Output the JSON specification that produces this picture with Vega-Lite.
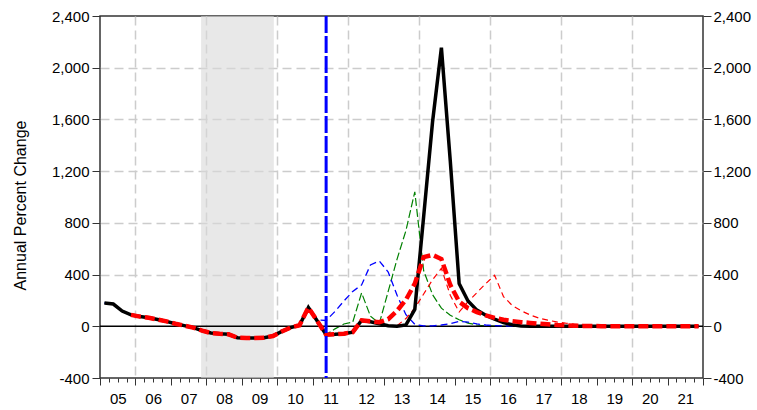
{
"$schema":"https://vega.github.io/schema/vega-lite/v6.json",
"width":603,"height":362,
"autosize":{"type":"none"},
"padding":{"left":100,"top":16,"right":54,"bottom":32},
"config":{"font":"Liberation Sans","view":{"stroke":"#333","strokeWidth":1.5}},
"datasets":{
"black":[{"t":2005.125,"v":180},{"t":2005.375,"v":172},{"t":2005.625,"v":118},{"t":2005.875,"v":88},{"t":2006.125,"v":75},{"t":2006.375,"v":66},{"t":2006.625,"v":52},{"t":2006.875,"v":38},{"t":2007.125,"v":20},{"t":2007.375,"v":5},{"t":2007.625,"v":-10},{"t":2007.875,"v":-33},{"t":2008.125,"v":-52},{"t":2008.375,"v":-58},{"t":2008.625,"v":-62},{"t":2008.875,"v":-88},{"t":2009.125,"v":-90},{"t":2009.375,"v":-90},{"t":2009.625,"v":-88},{"t":2009.875,"v":-75},{"t":2010.125,"v":-40},{"t":2010.375,"v":-10},{"t":2010.625,"v":8},{"t":2010.875,"v":145},{"t":2011.125,"v":41},{"t":2011.375,"v":-65},{"t":2011.625,"v":-62},{"t":2011.875,"v":-57},{"t":2012.125,"v":-45},{"t":2012.375,"v":45},{"t":2012.625,"v":35},{"t":2012.875,"v":20},{"t":2013.125,"v":5},{"t":2013.375,"v":0},{"t":2013.625,"v":10},{"t":2013.875,"v":130},{"t":2014.125,"v":850},{"t":2014.375,"v":1580},{"t":2014.625,"v":2155},{"t":2014.875,"v":1280},{"t":2015.125,"v":330},{"t":2015.375,"v":195},{"t":2015.625,"v":125},{"t":2015.875,"v":85},{"t":2016.125,"v":55},{"t":2016.375,"v":28},{"t":2016.625,"v":12},{"t":2016.875,"v":3},{"t":2017.125,"v":1},{"t":2017.375,"v":0},{"t":2017.625,"v":0},{"t":2017.875,"v":0},{"t":2018.125,"v":0},{"t":2018.375,"v":0},{"t":2018.625,"v":0},{"t":2018.875,"v":0},{"t":2019.125,"v":0},{"t":2019.375,"v":0},{"t":2019.625,"v":0},{"t":2019.875,"v":0},{"t":2020.125,"v":0},{"t":2020.375,"v":0},{"t":2020.625,"v":0},{"t":2020.875,"v":0},{"t":2021.125,"v":0},{"t":2021.375,"v":0},{"t":2021.625,"v":0},{"t":2021.875,"v":0}],
"red":[{"t":2005.875,"v":88},{"t":2006.125,"v":75},{"t":2006.375,"v":66},{"t":2006.625,"v":52},{"t":2006.875,"v":38},{"t":2007.125,"v":20},{"t":2007.375,"v":5},{"t":2007.625,"v":-10},{"t":2007.875,"v":-33},{"t":2008.125,"v":-52},{"t":2008.375,"v":-58},{"t":2008.625,"v":-62},{"t":2008.875,"v":-88},{"t":2009.125,"v":-90},{"t":2009.375,"v":-90},{"t":2009.625,"v":-88},{"t":2009.875,"v":-75},{"t":2010.125,"v":-40},{"t":2010.375,"v":-10},{"t":2010.625,"v":8},{"t":2010.875,"v":145},{"t":2011.125,"v":41},{"t":2011.375,"v":-65},{"t":2011.625,"v":-62},{"t":2011.875,"v":-57},{"t":2012.125,"v":-45},{"t":2012.375,"v":45},{"t":2012.625,"v":38},{"t":2012.875,"v":32},{"t":2013.125,"v":55},{"t":2013.375,"v":120},{"t":2013.625,"v":205},{"t":2013.875,"v":330},{"t":2014.125,"v":535},{"t":2014.375,"v":552},{"t":2014.625,"v":520},{"t":2014.875,"v":320},{"t":2015.125,"v":190},{"t":2015.375,"v":140},{"t":2015.625,"v":110},{"t":2015.875,"v":85},{"t":2016.125,"v":65},{"t":2016.375,"v":50},{"t":2016.625,"v":40},{"t":2016.875,"v":32},{"t":2017.125,"v":26},{"t":2017.375,"v":20},{"t":2017.625,"v":15},{"t":2017.875,"v":10},{"t":2018.125,"v":7},{"t":2018.375,"v":5},{"t":2018.625,"v":3},{"t":2018.875,"v":2},{"t":2019.125,"v":1},{"t":2019.375,"v":1},{"t":2019.625,"v":1},{"t":2019.875,"v":1},{"t":2020.125,"v":1},{"t":2020.375,"v":1},{"t":2020.625,"v":1},{"t":2020.875,"v":1},{"t":2021.125,"v":1},{"t":2021.375,"v":1},{"t":2021.625,"v":1},{"t":2021.875,"v":1}],
"blue":[{"t":2005.125,"v":180},{"t":2005.375,"v":172},{"t":2005.625,"v":118},{"t":2005.875,"v":88},{"t":2006.125,"v":75},{"t":2006.375,"v":66},{"t":2006.625,"v":52},{"t":2006.875,"v":38},{"t":2007.125,"v":20},{"t":2007.375,"v":5},{"t":2007.625,"v":-10},{"t":2007.875,"v":-33},{"t":2008.125,"v":-52},{"t":2008.375,"v":-58},{"t":2008.625,"v":-62},{"t":2008.875,"v":-88},{"t":2009.125,"v":-90},{"t":2009.375,"v":-90},{"t":2009.625,"v":-88},{"t":2009.875,"v":-75},{"t":2010.125,"v":-40},{"t":2010.375,"v":-10},{"t":2010.625,"v":8},{"t":2010.875,"v":145},{"t":2011.125,"v":48},{"t":2011.375,"v":45},{"t":2011.625,"v":115},{"t":2011.875,"v":195},{"t":2012.125,"v":270},{"t":2012.375,"v":320},{"t":2012.625,"v":475},{"t":2012.875,"v":505},{"t":2013.125,"v":420},{"t":2013.375,"v":240},{"t":2013.625,"v":90},{"t":2013.875,"v":15},{"t":2014.125,"v":3},{"t":2014.375,"v":3},{"t":2014.625,"v":10},{"t":2014.875,"v":20},{"t":2015.125,"v":38},{"t":2015.375,"v":32},{"t":2015.625,"v":18},{"t":2015.875,"v":10},{"t":2016.125,"v":5},{"t":2016.375,"v":3},{"t":2016.625,"v":2},{"t":2016.875,"v":1},{"t":2017.125,"v":0},{"t":2017.375,"v":0},{"t":2017.625,"v":0},{"t":2017.875,"v":0},{"t":2018.125,"v":0},{"t":2018.375,"v":0},{"t":2018.625,"v":0},{"t":2018.875,"v":0},{"t":2019.125,"v":0},{"t":2019.375,"v":0},{"t":2019.625,"v":0},{"t":2019.875,"v":0},{"t":2020.125,"v":0},{"t":2020.375,"v":0},{"t":2020.625,"v":0},{"t":2020.875,"v":0},{"t":2021.125,"v":0},{"t":2021.375,"v":0},{"t":2021.625,"v":0},{"t":2021.875,"v":0}],
"green":[{"t":2005.125,"v":180},{"t":2005.375,"v":172},{"t":2005.625,"v":118},{"t":2005.875,"v":88},{"t":2006.125,"v":75},{"t":2006.375,"v":66},{"t":2006.625,"v":52},{"t":2006.875,"v":38},{"t":2007.125,"v":20},{"t":2007.375,"v":5},{"t":2007.625,"v":-10},{"t":2007.875,"v":-33},{"t":2008.125,"v":-52},{"t":2008.375,"v":-58},{"t":2008.625,"v":-62},{"t":2008.875,"v":-88},{"t":2009.125,"v":-90},{"t":2009.375,"v":-90},{"t":2009.625,"v":-88},{"t":2009.875,"v":-75},{"t":2010.125,"v":-40},{"t":2010.375,"v":-10},{"t":2010.625,"v":8},{"t":2010.875,"v":145},{"t":2011.125,"v":41},{"t":2011.375,"v":-65},{"t":2011.625,"v":-20},{"t":2011.875,"v":18},{"t":2012.125,"v":32},{"t":2012.375,"v":258},{"t":2012.625,"v":78},{"t":2012.875,"v":22},{"t":2013.125,"v":270},{"t":2013.375,"v":520},{"t":2013.625,"v":740},{"t":2013.875,"v":1040},{"t":2014.125,"v":430},{"t":2014.375,"v":245},{"t":2014.625,"v":140},{"t":2014.875,"v":85},{"t":2015.125,"v":50},{"t":2015.375,"v":25},{"t":2015.625,"v":10},{"t":2015.875,"v":3},{"t":2016.125,"v":1},{"t":2016.375,"v":0},{"t":2016.625,"v":0},{"t":2016.875,"v":0},{"t":2017.125,"v":0},{"t":2017.375,"v":0},{"t":2017.625,"v":0},{"t":2017.875,"v":0},{"t":2018.125,"v":0},{"t":2018.375,"v":0},{"t":2018.625,"v":0},{"t":2018.875,"v":0},{"t":2019.125,"v":0},{"t":2019.375,"v":0},{"t":2019.625,"v":0},{"t":2019.875,"v":0},{"t":2020.125,"v":0},{"t":2020.375,"v":0},{"t":2020.625,"v":0},{"t":2020.875,"v":0},{"t":2021.125,"v":0},{"t":2021.375,"v":0},{"t":2021.625,"v":0},{"t":2021.875,"v":0}],
"redthin":[{"t":2013.375,"v":5},{"t":2013.625,"v":60},{"t":2013.875,"v":140},{"t":2014.125,"v":250},{"t":2014.375,"v":360},{"t":2014.625,"v":448},{"t":2014.875,"v":240},{"t":2015.125,"v":110},{"t":2015.375,"v":190},{"t":2015.625,"v":260},{"t":2015.875,"v":330},{"t":2016.125,"v":395},{"t":2016.375,"v":230},{"t":2016.625,"v":160},{"t":2016.875,"v":120},{"t":2017.125,"v":88},{"t":2017.375,"v":63},{"t":2017.625,"v":47},{"t":2017.875,"v":34},{"t":2018.125,"v":24},{"t":2018.375,"v":16},{"t":2018.625,"v":10},{"t":2018.875,"v":6},{"t":2019.125,"v":4},{"t":2019.375,"v":3},{"t":2019.625,"v":2},{"t":2019.875,"v":1},{"t":2020.125,"v":1},{"t":2020.375,"v":1},{"t":2020.625,"v":1},{"t":2020.875,"v":1},{"t":2021.125,"v":0},{"t":2021.375,"v":0},{"t":2021.625,"v":0},{"t":2021.875,"v":0}],
"band":[{"t":2007.85,"t2":2009.9}],
"zero":[{"v":0}],
"marker":[{"t":2011.375}]
},
"layer":[
{"data":{"name":"band"},"mark":{"type":"rect","color":"#d9d9d9","opacity":0.6},
 "encoding":{"x":{"field":"t","type":"quantitative","scale":{"domain":[2005,2022],"nice":false,"zero":false},"axis":null},"x2":{"field":"t2"}}},
{"data":{"name":"green"},"mark":{"type":"line","color":"#008000","strokeWidth":1.2,"strokeDash":[8,3]},
 "encoding":{
  "x":{"field":"t","type":"quantitative","scale":{"domain":[2005,2022],"nice":false,"zero":false},
   "axis":{"orient":"bottom","title":null,"values":[2005,2006,2007,2008,2009,2010,2011,2012,2013,2014,2015,2016,2017,2018,2019,2020,2021,2022],
    "labels":false,"tickColor":"#333","tickWidth":1,"tickSize":7,
    "domain":false,"grid":true,"gridColor":"#cccccc","gridWidth":1.5,"gridDash":[9,5],
    "gridOpacity":{"condition":{"test":"datum.value % 2 === 0 && datum.value > 2005 && datum.value < 2022","value":1},"value":0}}},
  "y":{"field":"v","type":"quantitative","scale":{"domain":[-400,2400],"nice":false,"zero":false},
   "axis":{"orient":"left","values":[-400,0,400,800,1200,1600,2000,2400],
    "labelExpr":"datum.value < 0 ? '-' + format(-datum.value, ',') : format(datum.value, ',')",
    "labelFontSize":15,"labelColor":"#000","labelPadding":3,"labelFlush":false,"tickSize":8,"tickColor":"#333","domain":false,
    "grid":true,"gridColor":"#cccccc","gridWidth":1.5,"gridDash":[9,5],
    "gridOpacity":{"condition":{"test":"datum.value > 0 && datum.value < 2400","value":1},"value":0},
    "title":"Annual Percent Change","titleFontSize":16,"titleFontWeight":"normal","titleColor":"#000",
    "titleX":-75,"titleY":189,"titleAngle":-90,"titleAlign":"center","titleBaseline":"alphabetic"}}}},
{"data":{"name":"zero"},"mark":{"type":"rule","color":"#000","strokeWidth":1.5},
 "encoding":{"y":{"field":"v","type":"quantitative","scale":{"domain":[-400,2400],"nice":false,"zero":false},"axis":null}}},
{"data":{"name":"blue"},"mark":{"type":"line","color":"#0000ff","strokeWidth":1.3,"strokeDash":[7,4]},
 "encoding":{
  "x":{"field":"t","type":"quantitative","scale":{"domain":[2005,2022],"nice":false,"zero":false},
   "axis":{"orient":"bottom","title":null,"values":[2005.25,2005.5,2005.75,2006.25,2006.5,2006.75,2007.25,2007.5,2007.75,2008.25,2008.5,2008.75,2009.25,2009.5,2009.75,2010.25,2010.5,2010.75,2011.25,2011.5,2011.75,2012.25,2012.5,2012.75,2013.25,2013.5,2013.75,2014.25,2014.5,2014.75,2015.25,2015.5,2015.75,2016.25,2016.5,2016.75,2017.25,2017.5,2017.75,2018.25,2018.5,2018.75,2019.25,2019.5,2019.75,2020.25,2020.5,2020.75,2021.25,2021.5,2021.75],
    "labelExpr":"datum.value % 1 === 0.5 ? format(floor(datum.value) % 100, '02d') : ''",
    "labelFontSize":15,"labelColor":"#000","labelPadding":9,"labelFlush":false,"labelOverlap":false,"labelBound":false,
    "tickColor":"#333","tickWidth":1,"tickSize":4,"domain":false,"grid":false}},
  "y":{"field":"v","type":"quantitative","scale":{"domain":[-400,2400],"nice":false,"zero":false},
   "axis":{"orient":"right","values":[-400,0,400,800,1200,1600,2000,2400],
    "labelExpr":"datum.value < 0 ? '-' + format(-datum.value, ',') : format(datum.value, ',')",
    "labelFontSize":15,"labelColor":"#000","labelPadding":2,"labelFlush":false,"tickSize":8,"tickColor":"#333","domain":false,"grid":false,"title":null}}}},
{"data":{"name":"redthin"},"mark":{"type":"line","color":"#ff0000","strokeWidth":1.2,"strokeDash":[6,4]},
 "encoding":{
  "x":{"field":"t","type":"quantitative","scale":{"domain":[2005,2022],"nice":false,"zero":false},"axis":null},
  "y":{"field":"v","type":"quantitative","scale":{"domain":[-400,2400],"nice":false,"zero":false},"axis":null}}},
{"data":{"name":"black"},"mark":{"type":"line","color":"#000000","strokeWidth":3.5},
 "encoding":{
  "x":{"field":"t","type":"quantitative","scale":{"domain":[2005,2022],"nice":false,"zero":false},"axis":null},
  "y":{"field":"v","type":"quantitative","scale":{"domain":[-400,2400],"nice":false,"zero":false},"axis":null}}},
{"data":{"name":"red"},"mark":{"type":"line","color":"#ff0000","strokeWidth":4.5,"strokeDash":[10,4]},
 "encoding":{
  "x":{"field":"t","type":"quantitative","scale":{"domain":[2005,2022],"nice":false,"zero":false},"axis":null},
  "y":{"field":"v","type":"quantitative","scale":{"domain":[-400,2400],"nice":false,"zero":false},"axis":null}}},
{"data":{"name":"marker"},"mark":{"type":"rule","color":"#0000ff","strokeWidth":3,"strokeDash":[17,3]},
 "encoding":{"x":{"field":"t","type":"quantitative","scale":{"domain":[2005,2022],"nice":false,"zero":false},"axis":null}}}
],
"resolve":{"axis":{"x":"independent","y":"independent"}}
}
